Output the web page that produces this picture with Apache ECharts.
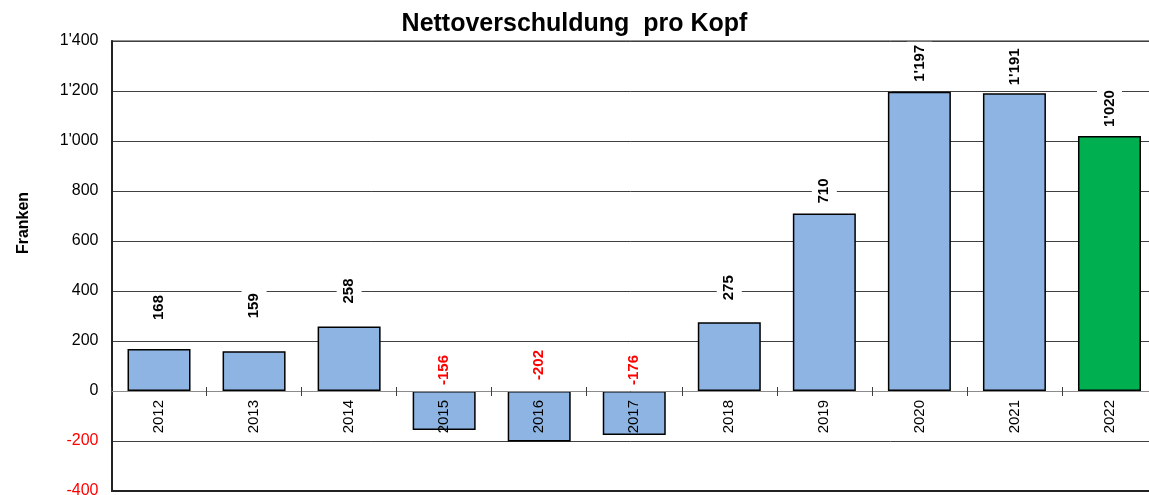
<!DOCTYPE html>
<html>
<head>
<meta charset="utf-8">
<script src="https://cdn.jsdelivr.net/npm/echarts@6/dist/echarts.min.js"></script>
<style>
html,body{margin:0;padding:0;background:#fff;}
#chart{width:1149px;height:495px;}
</style>
</head>
<body>
<div id="chart"></div>
<script>
const categories = ['2012','2013','2014','2015','2016','2017','2018','2019','2020','2021','2022'];
const values = [168, 159, 258, -156, -202, -176, 275, 710, 1197, 1191, 1020];
const highlightYear = '2022';
const yTicks = { min: -400, max: 1400, interval: 200 };
// label gap above bar (style only)
const labelGap = [26, 30, 20, 3, 8, 3, 19, 7, 7, 5, 6];

const FONT = 'Arial, "Liberation Sans", sans-serif';
function fmt(v) {
  const s = String(Math.abs(v)).replace(/\B(?=(\d{3})+(?!\d))/g, "'");
  return (v < 0 ? '-' : '') + s;
}

const seriesData = values.map((v, i) => ({
  value: v,
  itemStyle: { color: categories[i] === highlightYear ? '#00B050' : '#8DB4E2' },
  label: { color: v < 0 ? '#FF0000' : '#000000', distance: labelGap[i] }
}));

const GRID_H = 450;
// distance from zero line to grid bottom in px
const zeroToBottom = GRID_H * (0 - yTicks.min) / (yTicks.max - yTicks.min);
// split line colours, zero line lighter grey
const splitColors = [];
for (let v = yTicks.min; v <= yTicks.max; v += yTicks.interval) splitColors.push(v === 0 ? '#8c8c8c' : '#404040');

const chart = echarts.init(document.getElementById('chart'));
chart.setOption({
  animation: false,
  title: {
    text: 'Nettoverschuldung  pro Kopf',
    left: 'center', top: 7,
    textStyle: { fontFamily: FONT, fontSize: 25, fontWeight: 'bold', color: '#000' }
  },
  grid: { left: 111.5, top: 41, width: 1045.5, height: GRID_H, show: true, borderColor: '#222', borderWidth: 1, containLabel: false, outerBoundsMode: 'none' },
  graphic: [{
    type: 'text', x: 24, y: 223, rotation: Math.PI / 2,
    style: { text: 'Franken', font: 'bold 16px ' + FONT, fill: '#000', align: 'center', verticalAlign: 'middle' }
  }],
  xAxis: [
    {
      type: 'category', data: categories, position: 'bottom',
      axisLine: { onZero: true, onZeroAxisIndex: 0, lineStyle: { color: '#8c8c8c', width: 1 } },
      axisTick: { show: true, length: 5, lineStyle: { color: '#404040' } },
      axisLabel: { rotate: 90, margin: 9 - zeroToBottom, fontFamily: FONT, fontSize: 15, color: '#000' },
      z: 3
    },
    {
      type: 'category', data: categories, position: 'bottom',
      axisLine: { show: false, onZero: true, onZeroAxisIndex: 1 },
      axisTick: { show: true, inside: true, length: 4, lineStyle: { color: '#404040' } },
      axisLabel: { show: false }
    }
  ],
  yAxis: [
    {
      type: 'value', min: yTicks.min, max: yTicks.max, interval: yTicks.interval,
      axisLine: { show: true, lineStyle: { color: '#222', width: 2 } },
      axisTick: { show: false },
      splitLine: { lineStyle: { color: splitColors, width: 1 } },
      axisLabel: {
        margin: 13, fontFamily: FONT, fontSize: 16,
        color: v => (v < 0 ? '#FF0000' : '#000000'),
        formatter: v => fmt(v)
      }
    },
    {
      type: 'value', min: yTicks.min, max: yTicks.max, interval: yTicks.interval,
      position: 'left', show: false
    }
  ],
  series: [{
    type: 'bar', xAxisIndex: 0, yAxisIndex: 0, data: seriesData, barWidth: 63,
    itemStyle: { borderColor: '#000', borderWidth: 1.5 },
    label: {
      show: true, position: 'top', rotate: 90, align: 'left', verticalAlign: 'middle',
      fontFamily: FONT, fontSize: 15, fontWeight: 'bold',
      backgroundColor: '#fff', padding: [5, 3],
      formatter: p => fmt(p.value)
    },
    markLine: {
      silent: true, symbol: 'none', label: { show: false },
      lineStyle: { color: '#222', width: 2, type: 'solid' },
      data: [{ yAxis: yTicks.min }]
    }
  }]
});
</script>
</body>
</html>
